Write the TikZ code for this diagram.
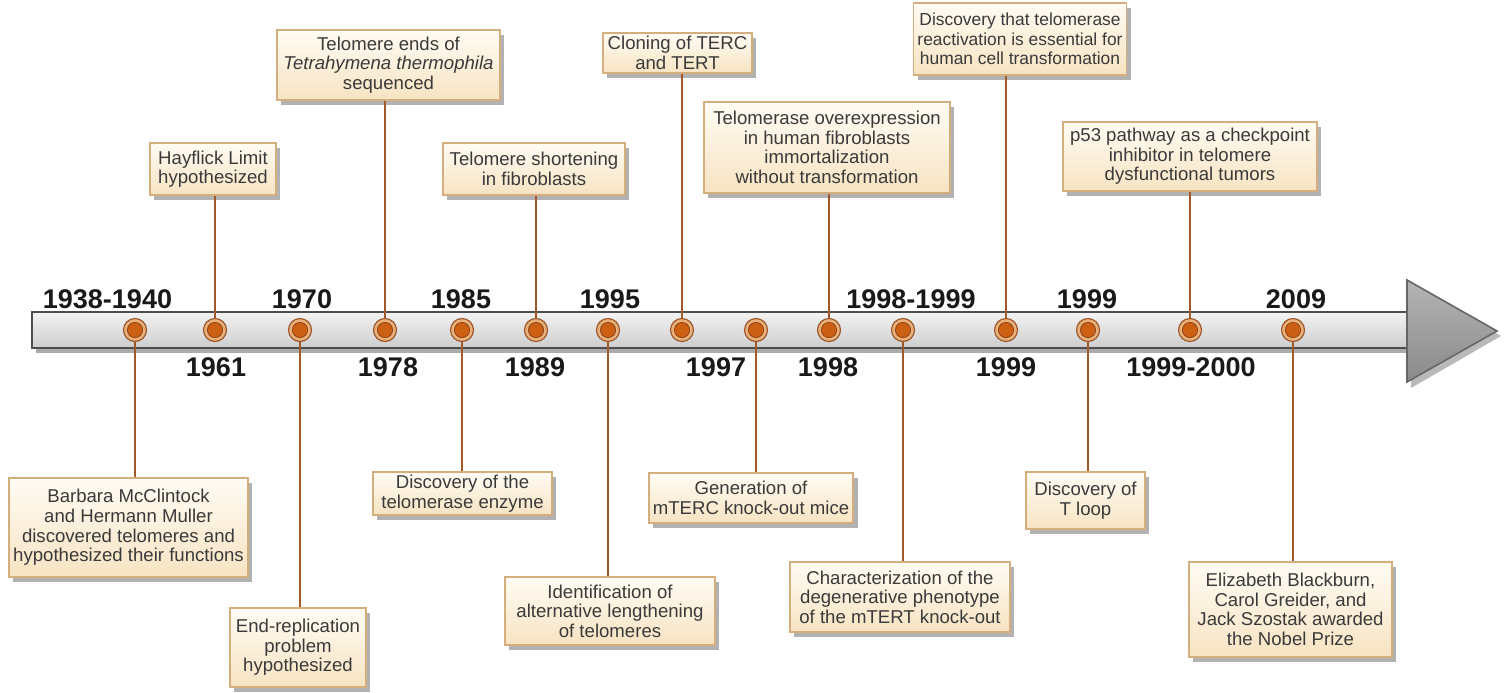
\documentclass[tikz,border=0pt]{standalone}
\usepackage{fontspec}
\setmainfont{Liberation Sans}
\usetikzlibrary{shadows}
\definecolor{boxtop}{HTML}{FFFCF4}
\definecolor{boxbot}{HTML}{F7E3C2}
\definecolor{boxline}{HTML}{D4AE7C}
\definecolor{txt}{HTML}{3A3A3A}
\definecolor{conn}{HTML}{A3582A}
\definecolor{ringc}{HTML}{E9B07A}
\definecolor{ringd}{HTML}{9C5A2E}
\definecolor{innerc}{HTML}{CC5F12}
\definecolor{innerd}{HTML}{8E4418}
\definecolor{bartop}{HTML}{F3F3F3}
\definecolor{barbot}{HTML}{CDCDCD}
\definecolor{barline}{HTML}{4E4E4E}
\definecolor{headtop}{HTML}{B4B4B4}
\definecolor{headbot}{HTML}{8A8A8A}
\tikzset{
  evbox/.style={draw=boxline, line width=0.7pt, top color=boxtop, bottom color=boxbot,
    align=center, text=txt, inner xsep=2pt, inner ysep=1pt,
    font=\fontsize{9.3}{9.8}\selectfont,
    drop shadow={shadow xshift=2.2pt, shadow yshift=-2.5pt, fill=black!55, opacity=0.55}},
  connline/.style={draw=conn, line width=1.4pt},
  evdot/.style={circle, minimum size=11.5pt, inner sep=0pt, fill=ringc, draw=ringd, line width=0.6pt,
    path picture={\fill[innerc, draw=innerd, line width=0.4pt] (path picture bounding box.center) circle (3.8pt);}},
  yr/.style={font=\fontsize{13.5}{14}\selectfont\bfseries, text=black!90, inner sep=0pt}
}
\begin{document}
\begin{tikzpicture}[x=0.5pt, y=-0.5pt]
\useasboundingbox (0,0) rectangle (1504,692);
% bar with shadow
\fill[black!55, opacity=0.6] (36,318) rectangle (1410,353);
\draw[barline, line width=0.9pt, top color=bartop, bottom color=barbot] (32,312) rectangle (1410,348);
% arrow head
\fill[black!55, opacity=0.5] (1411,284) -- (1501,336) -- (1411,388) -- cycle;
\draw[line width=0.8pt, draw=black!60, top color=headtop, bottom color=headbot] (1407,280) -- (1497,331) -- (1407,382) -- cycle;

% dot positions
\coordinate (p1) at (135,330);
\coordinate (p2) at (215,330);
\coordinate (p3) at (300,330);
\coordinate (p4) at (385,330);
\coordinate (p5) at (462,330);
\coordinate (p6) at (536,330);
\coordinate (p7) at (608,330);
\coordinate (p8) at (682,330);
\coordinate (p9) at (756,330);
\coordinate (p10) at (829,330);
\coordinate (p11) at (903,330);
\coordinate (p12) at (1006,330);
\coordinate (p13) at (1088,330);
\coordinate (p14) at (1190,330);
\coordinate (p15) at (1293,330);

% years above
\node[yr] (y1) at (107.5,299) {1938-1940};
\node[yr] (y3) at (302,299) {1970};
\node[yr] (y5) at (461,299) {1985};
\node[yr] (y7) at (610,299) {1995};
\node[yr] (y11) at (911,299) {1998-1999};
\node[yr] (y13) at (1087,299) {1999};
\node[yr] (y15) at (1296,299) {2009};
% years below
\node[yr] (y2) at (216,367) {1961};
\node[yr] (y4) at (388,367) {1978};
\node[yr] (y6) at (535,367) {1989};
\node[yr] (y8) at (716,367) {1997};
\node[yr] (y10) at (828,367) {1998};
\node[yr] (y12) at (1006,367) {1999};
\node[yr] (y14) at (1191,367) {1999-2000};

% boxes above
\node[evbox, minimum width=63pt, minimum height=26pt] (a1) at (213,169) {Hayflick Limit\\hypothesized};
\node[evbox, minimum width=111.5pt, minimum height=35pt] (a2) at (388.5,65) {Telomere ends of\\\textit{Tetrahymena thermophila}\\sequenced};
\node[evbox, minimum width=91pt, minimum height=26pt] (a3) at (534,169) {Telomere shortening\\in fibroblasts};
\node[evbox, minimum width=74.5pt, minimum height=20pt] (a4) at (677.5,53) {Cloning of TERC\\and TERT};
\node[evbox, minimum width=123pt, minimum height=45.5pt] (a5) at (827,147.5) {Telomerase overexpression\\in human fibroblasts\\immortalization\\without transformation};
\node[evbox, minimum width=102pt, minimum height=36pt, font=\fontsize{8.7}{9.8}\selectfont] (a6) at (1020,39) {Discovery that telomerase\\reactivation is essential for\\human cell transformation};
\node[evbox, minimum width=127pt, minimum height=34.5pt] (a7) at (1190,156.5) {p53 pathway as a checkpoint\\inhibitor in telomere\\dysfunctional tumors};

% boxes below
\node[evbox, minimum width=119.5pt, minimum height=49.5pt] (b1) at (128.5,527.5) {Barbara McClintock\\and Hermann Muller\\discovered telomeres and\\hypothesized their functions};
\node[evbox, minimum width=68pt, minimum height=39.5pt] (b2) at (298,647.5) {End-replication\\problem\\hypothesized};
\node[evbox, minimum width=89.5pt, minimum height=21.5pt] (b3) at (462.5,493.5) {Discovery of the\\telomerase enzyme};
\node[evbox, minimum width=105pt, minimum height=34pt] (b4) at (610,611) {Identification of\\alternative lengthening\\of telomeres};
\node[evbox, minimum width=101pt, minimum height=25pt] (b5) at (751,498) {Generation of\\mTERC knock-out mice};
\node[evbox, minimum width=110pt, minimum height=35pt] (b6) at (900,597) {Characterization of the\\degenerative phenotype\\of the mTERT knock-out};
\node[evbox, minimum width=59.5pt, minimum height=28.5pt] (b7) at (1085.5,500.5) {Discovery of\\T loop};
\node[evbox, minimum width=101.5pt, minimum height=47.5pt] (b8) at (1290.5,609.5) {Elizabeth Blackburn,\\Carol Greider, and\\Jack Szostak awarded\\the Nobel Prize};

% connectors
\draw[connline] (p2) -- (p2 |- a1.south);
\draw[connline] (p4) -- (p4 |- a2.south);
\draw[connline] (p6) -- (p6 |- a3.south);
\draw[connline] (p8) -- (p8 |- a4.south);
\draw[connline] (p10) -- (p10 |- a5.south);
\draw[connline] (p12) -- (p12 |- a6.south);
\draw[connline] (p14) -- (p14 |- a7.south);
\draw[connline] (p1) -- (p1 |- b1.north);
\draw[connline] (p3) -- (p3 |- b2.north);
\draw[connline] (p5) -- (p5 |- b3.north);
\draw[connline] (p7) -- (p7 |- b4.north);
\draw[connline] (p9) -- (p9 |- b5.north);
\draw[connline] (p11) -- (p11 |- b6.north);
\draw[connline] (p13) -- (p13 |- b7.north);
\draw[connline] (p15) -- (p15 |- b8.north);

% dots
\foreach \i in {1,...,15} {\node[evdot] (d\i) at (p\i) {};}
\end{tikzpicture}
\end{document}
